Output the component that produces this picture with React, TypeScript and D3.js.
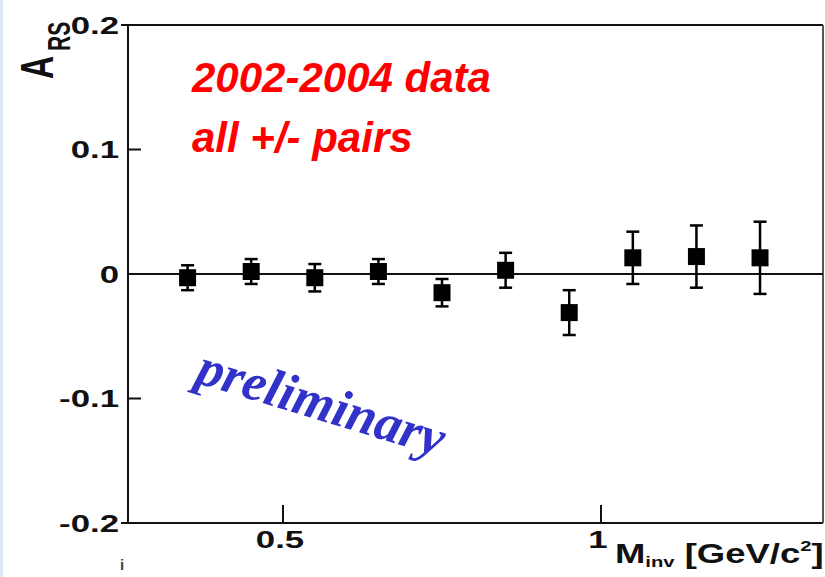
import React from "react";
import * as d3 from "d3";

// Invariant-mass bin centres [GeV/c^2]
const massBins = [0.35, 0.45, 0.55, 0.65, 0.75, 0.85, 0.95, 1.05, 1.15, 1.25];
// Asymmetry A_RS per bin
const asymmetry = [-0.003, 0.002, -0.003, 0.002, -0.015, 0.003, -0.031, 0.013, 0.014, 0.013];
// Statistical uncertainties
const errors = [0.010, 0.010, 0.011, 0.010, 0.011, 0.014, 0.018, 0.021, 0.025, 0.029];

const yTicks = [0.2, 0.1, 0, -0.1, -0.2];
const yTickLabels = ["0.2", "0.1", "0", "-0.1", "-0.2"];
const xTicks = [0.5, 1];
const xTickLabels = ["0.5", "1"];

const W = 825;
const H = 577;
const frame = { left: 128, right: 823, top: 25, bottom: 523 };
const SX = 1.45; // horizontal stretch of the axis lettering
const sans = "'Liberation Sans', Arial, Helvetica, sans-serif";
const serif = "'Liberation Serif', 'Times New Roman', serif";

export default function App() {
  const x = d3.scaleLinear().domain([0.2563, 1.349]).range([frame.left, frame.right]);
  const y = d3.scaleLinear().domain([-0.2, 0.2]).range([frame.bottom, frame.top]);

  const points = massBins.map((m, i) => ({ m, v: asymmetry[i], e: errors[i] }));
  const stroke = "#111";

  return (
    <svg
      width={W}
      height={H}
      style={{ position: "absolute", left: 0, top: 0, background: "#fff" }}
    >
      <rect x={0} y={0} width={3} height={H} fill="#dde6f1" />

      {/* frame */}
      <g stroke={stroke} strokeWidth={2} fill="none">
        <line x1={121} x2={frame.right} y1={y(0.2)} y2={y(0.2)} />
        <line x1={121} x2={frame.right} y1={y(-0.2)} y2={y(-0.2)} />
        <line x1={frame.left} x2={frame.left} y1={y(0.2)} y2={y(-0.2)} />
        <line x1={frame.right} x2={frame.right} y1={y(0.2)} y2={y(-0.2)} stroke="#555" />
        {/* zero line */}
        <line x1={frame.left} x2={frame.right} y1={y(0)} y2={y(0)} />
        {/* y ticks */}
        {yTicks.map((t) => (
          <line key={t} x1={frame.left} x2={frame.left + 13} y1={y(t)} y2={y(t)} />
        ))}
        {/* x ticks */}
        {xTicks.map((t) => (
          <line key={t} x1={x(t)} x2={x(t)} y1={frame.bottom} y2={frame.bottom - 18} />
        ))}
      </g>

      {/* y tick labels */}
      {yTicks.map((t, i) => (
        <g key={t} transform={`translate(119,${y(t)}) scale(${SX},1)`}>
          <text
            textAnchor="end"
            dy="0.36em"
            fontFamily={sans}
            fontWeight="bold"
            fontSize={24}
            fill="#111"
          >
            {yTickLabels[i]}
          </text>
        </g>
      ))}

      {/* x tick labels */}
      {xTicks.map((t, i) => (
        <g key={t} transform={`translate(${x(t) - 3},548) scale(${SX},1)`}>
          <text textAnchor="middle" fontFamily={sans} fontWeight="bold" fontSize={24} fill="#111">
            {xTickLabels[i]}
          </text>
        </g>
      ))}

      {/* x axis title */}
      <g transform={`translate(615,563) scale(1.35,1)`}>
        <text fontFamily={sans} fontWeight="bold" fontSize={27} fill="#111">
          M
          <tspan fontSize={15} dy={4}>inv</tspan>
          <tspan dy={-4}> [GeV/c</tspan>
          <tspan fontSize={15} dy={-12}>2</tspan>
          <tspan dy={12}>]</tspan>
        </text>
      </g>

      {/* y axis title */}
      <g transform={`translate(53,79) scale(${SX},1) rotate(-90)`}>
        <text fontFamily={sans} fontWeight="bold" fontSize={32} fill="#111">
          A
          <tspan fontSize={21} dx={5} dy={12}>RS</tspan>
        </text>
      </g>

      {/* error bars and markers */}
      <g stroke="#000" strokeWidth={2.5}>
        {points.map((p) => (
          <g key={p.m}>
            <line x1={x(p.m)} x2={x(p.m)} y1={y(p.v + p.e)} y2={y(p.v - p.e)} />
            <line x1={x(p.m) - 6.5} x2={x(p.m) + 6.5} y1={y(p.v + p.e)} y2={y(p.v + p.e)} />
            <line x1={x(p.m) - 6.5} x2={x(p.m) + 6.5} y1={y(p.v - p.e)} y2={y(p.v - p.e)} />
          </g>
        ))}
      </g>
      <g fill="#000">
        {points.map((p) => (
          <rect key={p.m} x={x(p.m) - 8.5} y={y(p.v) - 8.5} width={17} height={17} />
        ))}
      </g>

      {/* annotations */}
      <text
        x={192}
        y={92}
        fontFamily={sans}
        fontWeight="bold"
        fontStyle="italic"
        fontSize={42}
        fill="#ff0000"
      >
        2002-2004 data
      </text>
      <text
        x={192}
        y={152}
        fontFamily={sans}
        fontWeight="bold"
        fontStyle="italic"
        fontSize={42}
        fill="#ff0000"
      >
        all +/- pairs
      </text>
      <text
        transform="translate(194,382) rotate(17)"
        fontFamily={serif}
        fontWeight="bold"
        fontStyle="italic"
        fontSize={53}
        letterSpacing={0}
        fill="#3232c8"
      >
        preliminary
      </text>

      <text x={120} y={570} fontFamily={sans} fontWeight="bold" fontSize={15} fill="#444">
        i
      </text>
    </svg>
  );
}
